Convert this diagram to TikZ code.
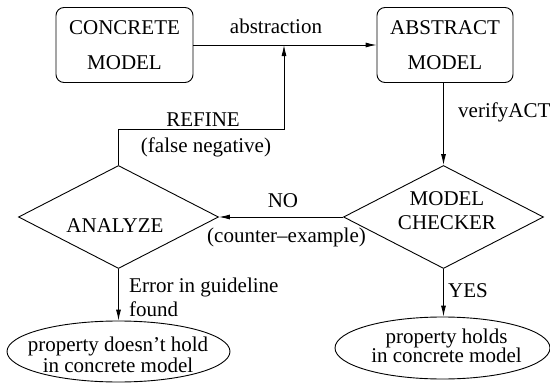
\documentclass[tikz,border=0pt]{standalone}
\usepackage{fontspec}
\setmainfont{Liberation Serif}
\usetikzlibrary{shapes.geometric,arrows.meta}
\begin{document}
\begin{tikzpicture}[x=1pt,y=-1pt,
  every node/.style={font=\fontsize{21}{24}\selectfont},
  line/.style={line width=0.9pt},
  arrow/.style={line width=0.9pt,-{Latex[length=11pt,width=5pt]}},
  modelbox/.style={draw,line width=0.9pt,rounded corners=8pt,align=center,
    inner sep=0pt,font=\fontsize{21}{35}\selectfont},
  decision/.style={draw,line width=0.9pt,diamond,inner sep=0pt,
    minimum width=200pt,minimum height=103pt},
  outcome/.style={draw,line width=0.9pt,ellipse,inner sep=0pt},
  txt/.style={inner sep=0pt}]
\useasboundingbox (0,0) rectangle (550,383);
% boxes
\node[modelbox,minimum width=137pt,minimum height=75pt] (conc) at (124.5,45) {CONCRETE\\MODEL};
\node[modelbox,minimum width=136pt,minimum height=75pt] (abs) at (445,45) {ABSTRACT\\MODEL};
% diamonds
\node[decision] (mc) at (443.5,217) {};
\node[decision] (ana) at (118.5,217) {};
% ellipses
\node[outcome,minimum width=223pt,minimum height=61pt] (el1) at (118.5,351.5) {};
\node[outcome,minimum width=215pt,minimum height=62pt] (el2) at (442.5,348) {};
% texts
\node[txt,anchor=north,align=center] (mct) at (447,191.25) {MODEL\\CHECKER};
\node[txt,anchor=base] (anat) at (115,232.7) {ANALYZE};
\node[txt,anchor=north,align=center,font=\fontsize{21}{21}\selectfont] (el1t) at (118,336.7) {property doesn't hold\\in concrete model};
\node[txt,anchor=north,align=center,font=\fontsize{21}{19.5}\selectfont] (el2t) at (446.5,328.7) {property holds\\in concrete model};
% connectors
\coordinate (join) at (284,45);
\draw[arrow] (conc.east) -- (abs.west);
\draw[arrow] (ana.north) -- ++(0,-36) -| (join);
\draw[arrow] (mc.north |- abs.south) -- (mc.north);
\draw[arrow] (mc.west) -- (mc.west -| ana.east);
\draw[arrow] (ana.south) -- (el1.north);
\draw[arrow] (mc.south) -- (mc.south |- el2.north);
% labels
\node[txt,anchor=base] (labs) at (276,33.5) {abstraction};
\node[txt,anchor=base] (lref) at (203,126) {REFINE};
\node[txt,anchor=base] (lfn) at (206,152) {(false negative)};
\node[txt,anchor=base west] (lver) at (458,117) {verifyACT};
\node[txt,anchor=base] (lno) at (283,207.5) {NO};
\node[txt,anchor=base] (lce) at (286.5,242) {(counter--example)};
\node[txt,anchor=north west,align=left] (lerr) at (129,278.2) {Error in guideline\\found};
\node[txt,anchor=base west] (lyes) at (448,297) {YES};
\end{tikzpicture}
\end{document}
